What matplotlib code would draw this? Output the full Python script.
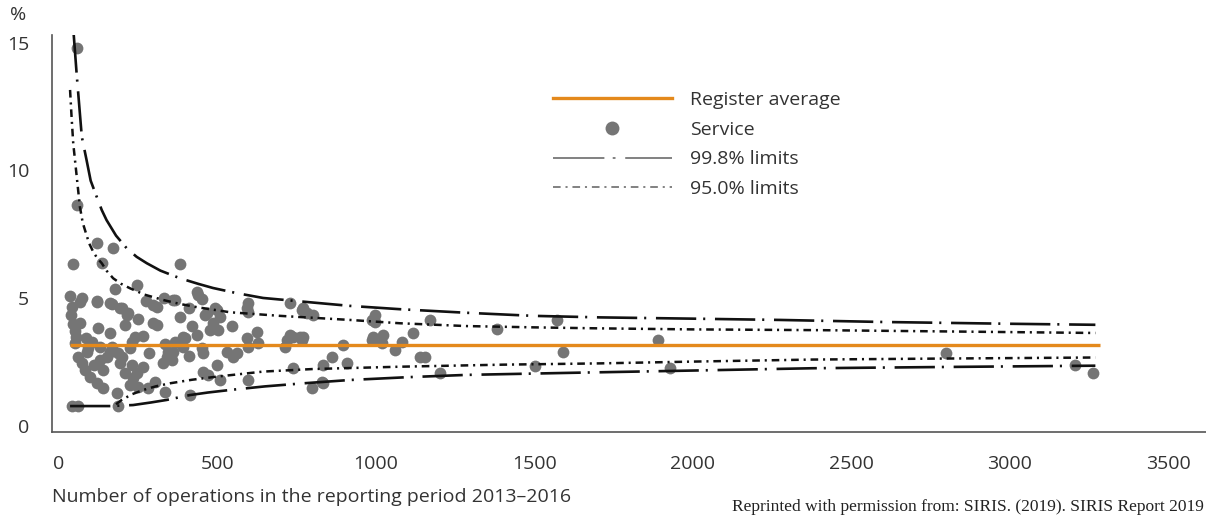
import numpy as np
import matplotlib
matplotlib.use("Agg")
import matplotlib.pyplot as plt
from matplotlib.lines import Line2D
from matplotlib.legend_handler import HandlerLine2D

plt.rcParams['font.family'] = ['Open Sans', 'DejaVu Sans']
plt.rcParams['lines.scale_dashes'] = False

# services: number of operations vs percentage
service_n = [58, 58, 121, 171, 43, 137, 382,
             177, 245,
             35, 72, 121, 166, 198, 219, 298, 361, 440, 450, 597, 592, 729, 766, 803,
             40, 66, 37, 66, 124, 161, 208, 240, 266, 298, 308, 382, 392, 435, 466, 498,
             508, 476, 503, 545, 592, 624, 629,
             50, 92, 129, 166, 224, 334, 366, 392, 450, 529, 561, 597, 718, 739, 766, 713,
             897, 992, 1023, 987, 997,
             61, 72, 82, 98, 119, 140, 182, 150, 140, 187, 192, 208, 229, 224, 250, 282,
             303, 334, 329, 340, 361, 455, 455, 471, 498, 508, 597, 413, 739, 797, 829,
             834, 861, 908,
             40, 61, 187,
             119, 161, 192, 214, 308, 366, 434, 461, 492, 597, 771, 729, 760,
             345, 356, 382, 398, 487, 550, 129, 161, 198, 245, 234,
             45, 50, 55, 85, 105, 110, 90, 265, 285, 230, 250, 275, 330, 410, 420, 410,
             782, 771, 834, 997, 987, 1018, 1060, 1081, 1118, 1139, 1155, 1171, 1202,
             1381, 1502, 1570, 1591, 1891, 1928, 2800, 3206, 3264]
service_pct = [14.8, 8.65, 7.15, 6.95, 6.33, 6.39, 6.34,
               5.35, 5.52,
               5.1, 5.0, 4.9, 4.77, 4.6, 4.41, 4.74, 4.93, 5.13, 4.96, 4.8, 4.6, 4.8, 4.54, 4.34,
               4.67, 4.87, 4.34, 4.02, 3.82, 3.63, 3.95, 3.5, 3.52, 4.02, 4.67, 4.28, 3.5, 3.56, 4.41, 4.54,
               4.28, 3.76, 3.76, 3.91, 3.43, 3.69, 3.24,
               3.24, 3.04, 3.1, 3.1, 3.04, 3.21, 3.3, 3.1, 3.04, 2.91, 2.84, 3.1, 3.37, 3.5, 3.37, 3.1,
               3.17, 3.5, 3.56, 4.15, 4.34,
               2.71, 2.45, 2.19, 1.93, 1.67, 1.48, 1.28, 2.71, 2.19, 2.84, 2.45, 2.06, 2.39, 1.6, 1.54, 1.48,
               1.73, 1.34, 2.45, 2.71, 2.91, 2.84, 2.13, 2.0, 2.39, 1.8, 1.8, 1.21, 2.26, 1.48, 1.73,
               2.39, 2.71, 2.45,
               0.78, 0.78, 0.78,
               4.87, 4.8, 4.6, 4.34, 3.95, 4.93, 5.26, 4.34, 4.6, 4.47, 4.6, 3.56, 3.5,
               2.91, 2.58, 3.24, 3.43, 4.02, 2.71, 2.58, 2.91, 2.71, 2.06, 1.87,
               4.0, 3.7, 3.5, 3.45, 3.3, 2.4, 2.9, 2.3, 2.85, 3.3, 4.2, 4.9, 5.0, 4.6, 3.9, 2.75,
               4.41, 3.5, 1.7, 4.05, 3.37, 3.24, 2.97, 3.3, 3.63, 2.71, 2.71, 4.13, 2.09,
               3.78, 2.35, 4.13, 2.91, 3.37, 2.26, 2.86, 2.37, 2.07]

avg_n = [35, 3285]
avg_pct = [3.15, 3.15]

up998_n = [46, 56, 72, 87, 100, 119, 135, 150, 180, 214, 245, 277, 320, 382, 440, 486,
           560, 644, 802, 918, 1076, 1286, 1496, 1707, 2000, 2275, 2600, 3000, 3270]
up998_pct = [15.4, 13.74, 11.32, 10.41, 9.6, 8.97, 8.45, 8.06, 7.45, 6.95, 6.62, 6.37,
             6.08, 5.78, 5.56, 5.40, 5.2, 5.01, 4.83, 4.70, 4.57, 4.43, 4.31, 4.25, 4.2,
             4.15, 4.07, 4.0, 3.96]

up95_n = [35, 40, 45, 56, 66, 75, 85, 95, 108, 120, 135, 150, 171, 195, 224, 270, 329,
          380, 435, 540, 697, 918, 1076, 1286, 1497, 1707, 2000, 2400, 2800, 3270]
up95_pct = [13.15, 12.04, 11.06, 9.76, 8.58, 7.95, 7.55, 7.15, 6.82, 6.58, 6.37, 6.08,
            5.78, 5.57, 5.39, 5.14, 4.93, 4.78, 4.65, 4.45, 4.31, 4.15, 4.02, 3.91, 3.86,
            3.82, 3.78, 3.75, 3.70, 3.64]

lo95_n = [180, 198, 230, 266, 305, 350, 420, 497, 645, 803, 1076, 1400, 1707, 2000,
          2379, 2800, 3270]
lo95_pct = [0.85, 1.02, 1.24, 1.41, 1.55, 1.67, 1.81, 1.93, 2.13, 2.23, 2.32, 2.40, 2.45,
            2.52, 2.6, 2.64, 2.68]

lo998_n = [35, 160, 234, 290, 340, 413, 470, 540, 650, 771, 918, 1100, 1287, 1654, 2000,
           2379, 2800, 3270]
lo998_pct = [0.78, 0.78, 0.82, 0.92, 1.02, 1.21, 1.31, 1.41, 1.55, 1.67, 1.80, 1.91, 2.0,
             2.09, 2.17, 2.26, 2.31, 2.36]

xticks = [0, 500, 1000, 1500, 2000, 2500, 3000, 3500]
yticks = [0, 5, 10, 15]

text_col = '#333333'
orange = '#E4891C'
grey_dot = '#757575'
dash998 = (0, (29, 5, 1.5, 7))
dash95 = (0, (5.5, 3.5, 1.5, 3.5))

fig = plt.figure(figsize=(12.06, 5.15), dpi=100)
ax = fig.add_axes([52 / 1206, 1 - 432 / 515, 1 - 52 / 1206, (432 - 35) / 515])

ax.scatter(service_n, service_pct, s=72, color=grey_dot, linewidths=0, zorder=2)
ax.plot(avg_n, avg_pct, color=orange, lw=2.4, zorder=4, solid_capstyle='butt')
for xs, ys in [(up998_n, up998_pct), (lo998_n, lo998_pct)]:
    ax.plot(xs, ys, color='#111111', lw=1.9, linestyle=dash998, zorder=3)
for xs, ys in [(up95_n, up95_pct), (lo95_n, lo95_pct)]:
    ax.plot(xs, ys, color='#111111', lw=1.8, linestyle=dash95, zorder=3)

ax.set_xlim(-22, 3619)
ax.set_ylim(-0.235, 15.3)
ax.set_xticks(xticks)
ax.set_yticks(yticks)
ax.tick_params(length=0, labelsize=14, colors=text_col)
ax.tick_params(axis='x', pad=16.5)
ax.tick_params(axis='y', pad=16.5)
for s in ['top', 'right']:
    ax.spines[s].set_visible(False)
for s in ['left', 'bottom']:
    ax.spines[s].set_color('#555555')
    ax.spines[s].set_linewidth(1.2)


class MarkerRight(HandlerLine2D):
    def get_xdata(self, legend, xdescent, ydescent, width, height, fontsize):
        return np.array([-xdescent, -xdescent + width]), np.array([-xdescent + width - 7])


h_avg = Line2D([], [], color=orange, lw=2.4)
h_srv = Line2D([], [], color=grey_dot, lw=0, marker='o', markersize=10, markeredgewidth=0)
h_998 = Line2D([], [], color='#777777', lw=1.3, linestyle=(0, (37, 6, 2, 7)))
h_95 = Line2D([], [], color='#777777', lw=1.3, linestyle=(0, (5.5, 3.5, 1.5, 3.5)))
leg = fig.legend([h_avg, h_srv, h_998, h_95],
                 ['Register average', 'Service', '99.8% limits', '95.0% limits'],
                 loc='upper left', bbox_to_anchor=(553 / 1206, 1 - 91 / 515),
                 bbox_transform=fig.transFigure, frameon=False, fontsize=14,
                 handlelength=6.1, handletextpad=0.95, labelspacing=0.6,
                 borderpad=0, borderaxespad=0,
                 handler_map={h_srv: MarkerRight(numpoints=1)})
for t in leg.get_texts():
    t.set_color(text_col)

fig.text(18 / 1206, 1 - 15 / 515, '%', fontsize=14, color=text_col, ha='center', va='center')
fig.text(52 / 1206, 1 - 497 / 515, 'Number of operations in the reporting period 2013\u20132016',
         fontsize=14, color=text_col, ha='left', va='center')
fig.text(1204 / 1206, 1 - 507 / 515,
         'Reprinted with permission from: SIRIS. (2019). SIRIS Report 2019',
         fontsize=12.5, color='#222222', ha='right', va='center', family='Liberation Serif')

fig.savefig('out.png', dpi=100)
